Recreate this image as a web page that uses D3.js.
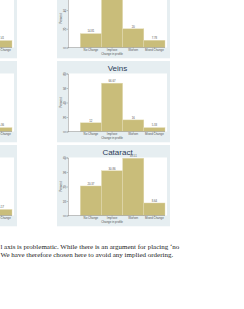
<!DOCTYPE html>
<html>
<head>
<meta charset="utf-8">
<script src="https://cdn.jsdelivr.net/npm/d3@7"></script>
<style>
  html, body { margin: 0; padding: 0; background: #fff; }
  svg { display: block; }
</style>
</head>
<body>
<svg id="page" width="244" height="309"></svg>
<script>
// categories on the x axis of every histogram
const categories = ["No Change", "Improve", "Worsen", "Mixed Change"];
const axisTitle = "Change in profile";

// panel titles, left column then middle column (top titles are cut off)
const titlesLeft = ["", "", ""];
const titlesMid = ["", "Veins", "Cataract"];

// percent per category, left column (only last bar visible) and middle column
const leftTop = [18.52, 51.85, 22.22, 7.41];
const leftMid = [14.29, 60.71, 19.64, 5.36];
const leftBot = [25.0, 33.33, 37.5, 4.17];
const midTop = [14.81, 57.41, 20.0, 7.78];
const midVeins = [12, 66.67, 16, 5.33];
const midCataract = [20.37, 30.86, 39.51, 8.64];

// y axis per row
const rowMax = [62, 80, 40];
const rowTicks = [[0, 20, 40, 60], [0, 20, 40, 60, 80], [0, 10, 20, 30, 40]];

const footLines = [
  "l axis is problematic. While there is an argument for placing \u2018no",
  "We have therefore chosen here to avoid any implied ordering."
];

const svg = d3.select('#page');

const panelW = 113, panelH = 81.3;
const colX = [-96, 57];
const rowY = [-23, 61, 145];
const plot = { left: 11, right: 110, top: 12.5, bottom: 70.5 };

const x = d3.scaleBand()
  .domain(categories)
  .range([23.3, 108])
  .padding(0);

const panels = [
  { col: 0, row: 0, title: titlesLeft[0], values: leftTop },
  { col: 0, row: 1, title: titlesLeft[1], values: leftMid },
  { col: 0, row: 2, title: titlesLeft[2], values: leftBot },
  { col: 1, row: 0, title: titlesMid[0], values: midTop },
  { col: 1, row: 1, title: titlesMid[1], values: midVeins },
  { col: 1, row: 2, title: titlesMid[2], values: midCataract }
];

panels.forEach(p => {
  const g = svg.append('g')
    .attr('transform', `translate(${colX[p.col]},${rowY[p.row]})`);

  const y = d3.scaleLinear()
    .domain([0, rowMax[p.row]])
    .range([plot.bottom, plot.top]);

  // graph region
  g.append('rect')
    .attr('width', panelW)
    .attr('height', panelH)
    .attr('fill', '#e6eef1');

  // plot region
  g.append('rect')
    .attr('x', plot.left)
    .attr('y', plot.top)
    .attr('width', plot.right - plot.left)
    .attr('height', plot.bottom - plot.top)
    .attr('fill', '#fff');

  // title
  g.append('text')
    .attr('x', (plot.left + plot.right) / 2)
    .attr('y', 9.6)
    .attr('text-anchor', 'middle')
    .style('font-family', 'Liberation Sans, Arial, sans-serif')
    .style('font-size', '8px')
    .style('fill', '#2b3b58')
    .text(p.title);

  // bars
  g.selectAll('rect.bar')
    .data(p.values)
    .join('rect')
    .attr('class', 'bar')
    .attr('x', (d, i) => x(categories[i]))
    .attr('width', x.bandwidth())
    .attr('y', d => y(d))
    .attr('height', d => y(0) - y(d))
    .attr('fill', '#c9bd7a')
    .attr('stroke', '#e4ddb4')
    .attr('stroke-width', 0.4);

  // value labels
  g.selectAll('text.val')
    .data(p.values)
    .join('text')
    .attr('class', 'val')
    .attr('x', (d, i) => x(categories[i]) + x.bandwidth() / 2)
    .attr('y', d => y(d) - 1.2)
    .attr('text-anchor', 'middle')
    .style('font-family', 'Liberation Sans, Arial, sans-serif')
    .style('font-size', '2.8px')
    .style('fill', '#555')
    .text(d => String(d));

  // y axis
  const yAxis = g.append('g')
    .attr('transform', `translate(${plot.left},0)`)
    .call(d3.axisLeft(y).tickValues(rowTicks[p.row]).tickSize(1.5).tickPadding(0.8));
  yAxis.select('.domain').attr('stroke', '#888').attr('stroke-width', 0.5);
  yAxis.selectAll('line').attr('stroke', '#888').attr('stroke-width', 0.5);
  yAxis.selectAll('text')
    .attr('x', null).attr('dy', null)
    .attr('transform', 'translate(-2.3,0) rotate(-90)')
    .attr('text-anchor', 'middle')
    .style('font-family', 'Liberation Sans, Arial, sans-serif')
    .style('font-size', '2.8px')
    .style('fill', '#555');

  g.append('text')
    .attr('transform', `translate(5.2,${(plot.top + plot.bottom) / 2}) rotate(-90)`)
    .attr('text-anchor', 'middle')
    .style('font-family', 'Liberation Sans, Arial, sans-serif')
    .style('font-size', '2.9px')
    .style('fill', '#555')
    .text('Percent');

  // x axis
  const xAxis = g.append('g')
    .attr('transform', `translate(0,${plot.bottom})`)
    .call(d3.axisBottom(x).tickSize(1.3).tickPadding(0.6));
  xAxis.select('.domain')
    .attr('d', `M${plot.left},0H${plot.right - 2}`)
    .attr('stroke', '#888').attr('stroke-width', 0.5);
  xAxis.selectAll('line').attr('stroke', '#888').attr('stroke-width', 0.5);
  xAxis.selectAll('text')
    .style('font-family', 'Liberation Sans, Arial, sans-serif')
    .style('font-size', '2.9px')
    .style('fill', '#555');

  g.append('text')
    .attr('x', x(categories[1]) + x.bandwidth() / 2)
    .attr('y', plot.bottom + 7.6)
    .attr('text-anchor', 'middle')
    .style('font-family', 'Liberation Sans, Arial, sans-serif')
    .style('font-size', '2.9px')
    .style('fill', '#555')
    .text(axisTitle);
});

// body text below the figure
svg.selectAll('text.foot')
  .data(footLines)
  .join('text')
  .attr('class', 'foot')
  .attr('x', 0.4)
  .attr('y', (d, i) => 248.6 + i * 8)
  .style('font-family', 'Liberation Serif, Times New Roman, serif')
  .style('font-size', '7px')
  .style('fill', '#222')
  .text(d => d);
</script>
</body>
</html>
